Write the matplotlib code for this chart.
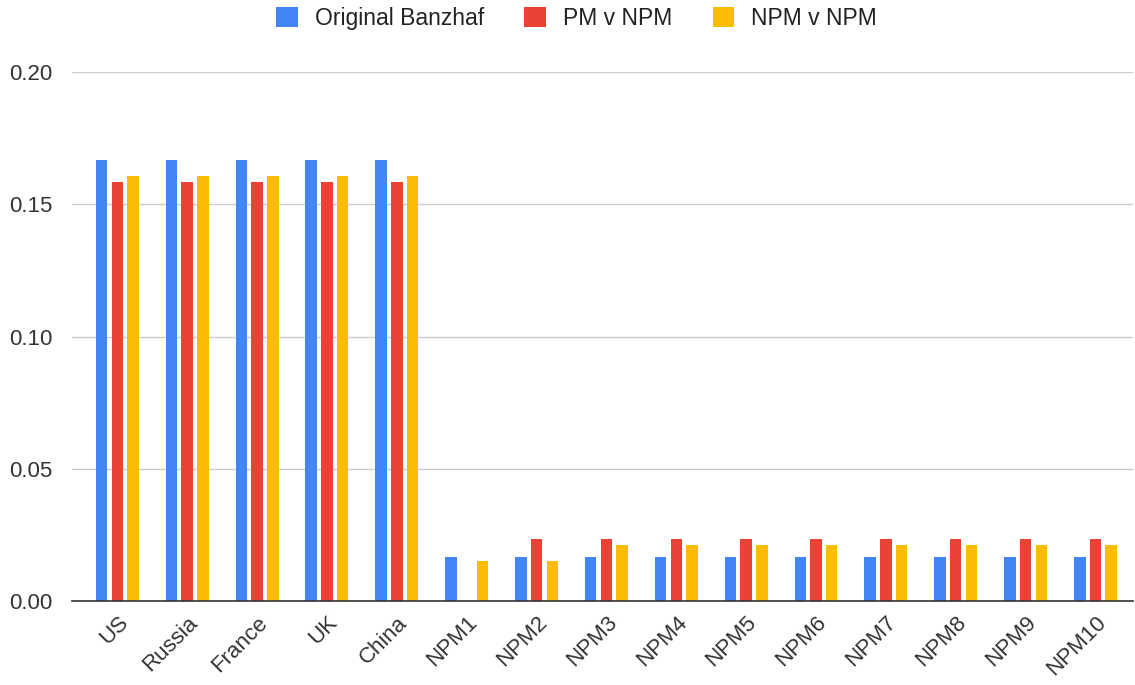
import matplotlib.pyplot as plt
import numpy as np

plt.rcParams['font.family'] = ['Liberation Sans', 'DejaVu Sans']

# data
countries = ["US", "Russia", "France", "UK", "China", "NPM1", "NPM2", "NPM3",
             "NPM4", "NPM5", "NPM6", "NPM7", "NPM8", "NPM9", "NPM10"]
original_banzhaf = [0.1669]*5 + [0.0165]*10
pm_v_npm = [0.1584]*5 + [0.0] + [0.0234]*9
npm_v_npm = [0.1607]*5 + [0.0151, 0.0151] + [0.0212]*8
series_names = ["Original Banzhaf", "PM v NPM", "NPM v NPM"]
colors = ["#4285F4", "#EA4335", "#FBBC04"]

fig = plt.figure(figsize=(11.35, 6.85), dpi=100)
ax = fig.add_axes([0.0634, 0.1226, 0.935, 0.772])

x = np.arange(len(countries))
w = 0.165
step = 0.225
for i, (vals, name, c) in enumerate(zip([original_banzhaf, pm_v_npm, npm_v_npm], series_names, colors)):
    ax.bar(x + (i-1)*step, vals, width=w, color=c, label=name, zorder=3)

ax.set_ylim(0, 0.20)
ax.set_xlim(-0.65, 14.54)
ax.set_yticks([0, 0.05, 0.10, 0.15, 0.20])
ax.set_yticklabels(["0.00", "0.05", "0.10", "0.15", "0.20"])
ax.set_xticks(x)
ax.set_xticklabels(countries, rotation=45, ha='right', rotation_mode='anchor')
ax.tick_params(axis='both', length=0, labelsize=16, colors='#333333')
ax.tick_params(axis='x', pad=8)
ax.tick_params(axis='y', pad=14)
ax.grid(axis='y', color='#cccccc', linewidth=1, zorder=0)
for s in ['top', 'right', 'left']:
    ax.spines[s].set_visible(False)
ax.spines['bottom'].set_color('#333333')
ax.spines['bottom'].set_linewidth(1.2)
ax.spines['bottom'].set_zorder(4)

fig.legend(loc='center', bbox_to_anchor=(0.508, 0.9737), ncol=3, frameon=False,
           fontsize=16.5, handlelength=0.95, handleheight=0.95, handletextpad=0.75,
           columnspacing=1.75, labelcolor='#222222')

plt.savefig("out.png", dpi=100)
